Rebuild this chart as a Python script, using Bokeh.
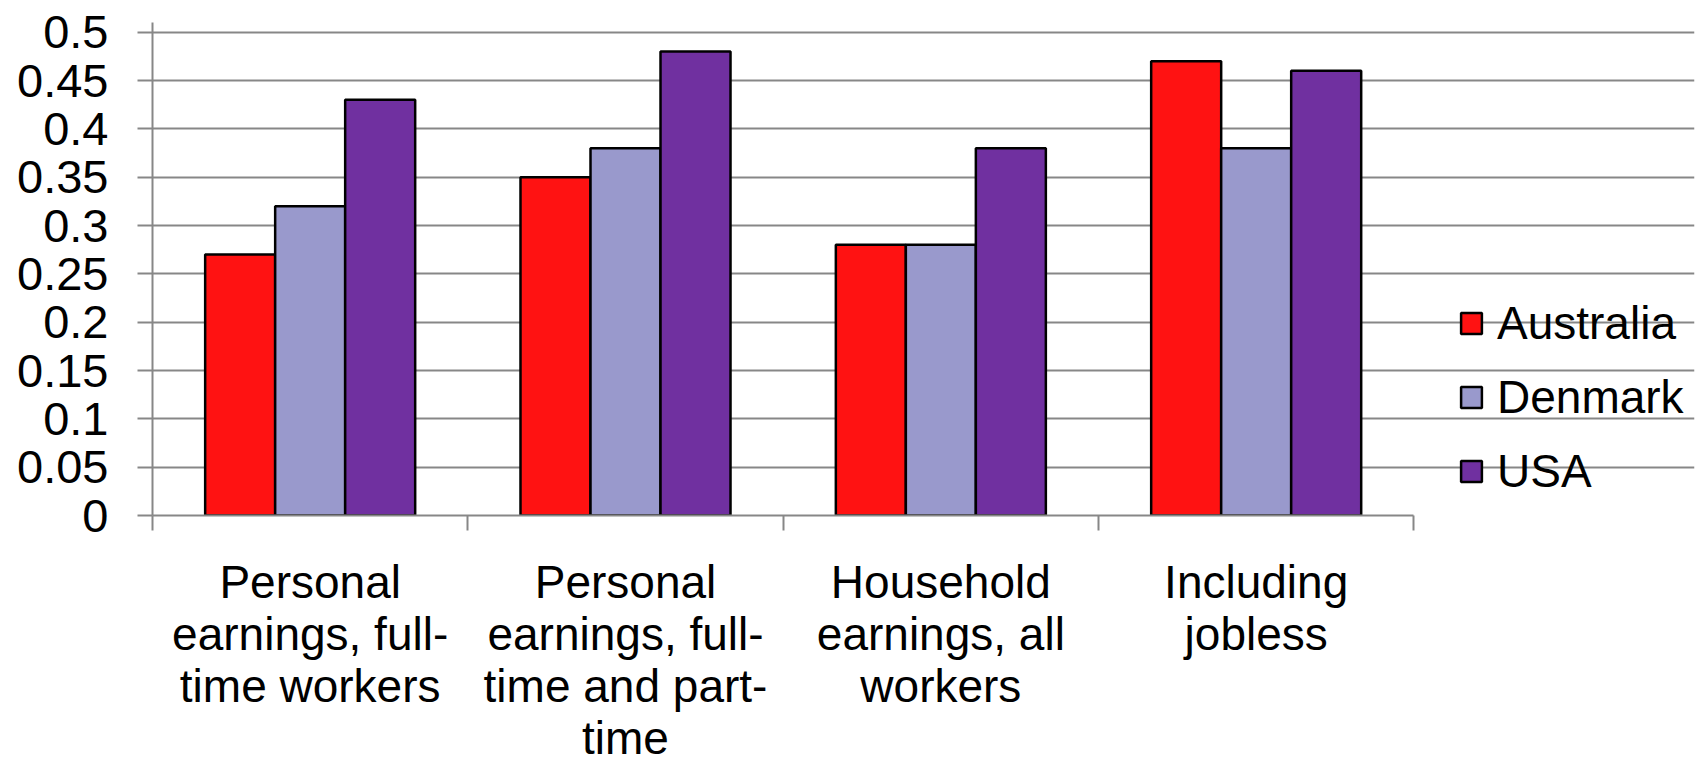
import numpy as np
from bokeh.plotting import figure
from bokeh.models import Range1d, FixedTicker, Legend, LegendItem, CustomJSTickFormatter
from bokeh.embed import file_html
from bokeh.resources import INLINE

categories = [
    "Personal\nearnings, full-\ntime workers",
    "Personal\nearnings, full-\ntime and part-\ntime",
    "Household\nearnings, all\nworkers",
    "Including\njobless",
]
countries = ["Australia", "Denmark", "USA"]
australia = [0.27, 0.35, 0.28, 0.47]
denmark = [0.32, 0.38, 0.28, 0.38]
usa = [0.43, 0.48, 0.38, 0.46]
y_ticks = [0, 0.05, 0.1, 0.15, 0.2, 0.25, 0.3, 0.35, 0.4, 0.45, 0.5]

colors = ["#FF1212", "#9999CC", "#7030A0"]
series = [australia, denmark, usa]
FONT = "Liberation Sans"
GRID = "#878787"

n = len(categories)
centers = np.arange(n) + 0.5
bw = 0.222
offsets = [-bw, 0.0, bw]

# frame extends to the right so the legend sits inside it; grid/axis bounded to the categories
p = figure(width=1699, height=767, x_range=Range1d(0, 4.89), y_range=Range1d(0, 0.51),
           output_backend="svg", toolbar_location=None,
           min_border_left=152, min_border_right=5, min_border_top=22, min_border_bottom=252)
p.outline_line_color = None
p.background_fill_color = "white"
p.border_fill_color = "white"

renderers = []
for vals, col, off in zip(series, colors, offsets):
    r = p.vbar(x=centers + off, top=vals, width=bw, fill_color=col, line_color="black", line_width=2.5)
    renderers.append(r)

# grid
p.xgrid.visible = False
p.ygrid.ticker = FixedTicker(ticks=y_ticks)
p.ygrid.grid_line_color = GRID
p.ygrid.grid_line_width = 2
p.ygrid.bounds = (0, n)

# x axis
xa = p.xaxis[0]
xa.bounds = (0, n)
xa.ticker = FixedTicker(ticks=list(centers), minor_ticks=list(range(n + 1)))
xa.major_label_overrides = {float(c): lab for c, lab in zip(centers, categories)}
xa.major_tick_out = 0
xa.major_tick_in = 0
xa.minor_tick_out = 15
xa.minor_tick_in = 0
xa.minor_tick_line_color = GRID
xa.minor_tick_line_width = 2
xa.axis_line_color = GRID
xa.axis_line_width = 2
xa.major_label_text_font = FONT
xa.major_label_text_font_size = "46px"
xa.major_label_text_color = "black"
xa.major_label_text_line_height = 1.0
xa.major_label_standoff = 25

# y axis
ya = p.yaxis[0]
ya.ticker = FixedTicker(ticks=y_ticks)
ya.formatter = CustomJSTickFormatter(code="return tick.toFixed(2).replace(/0+$/,'').replace(/\\.$/,'');")
ya.major_tick_out = 15
ya.major_tick_in = 0
ya.minor_tick_out = 0
ya.minor_tick_in = 0
ya.major_tick_line_color = GRID
ya.major_tick_line_width = 2
ya.axis_line_color = GRID
ya.axis_line_width = 2
ya.major_label_text_font = FONT
ya.major_label_text_font_size = "47px"
ya.major_label_text_color = "black"
ya.major_label_standoff = 29

legend = Legend(
    items=[LegendItem(label=c, renderers=[r]) for c, r in zip(countries, renderers)],
    location=(1306, 17),
    label_text_font=FONT, label_text_font_size="46px", label_text_color="black",
    glyph_width=26, glyph_height=26, label_standoff=13, spacing=20,
    padding=0, margin=0, border_line_color=None, background_fill_color=None,
)
p.add_layout(legend, "center")

open("out.html", "w").write(file_html(p, INLINE))
